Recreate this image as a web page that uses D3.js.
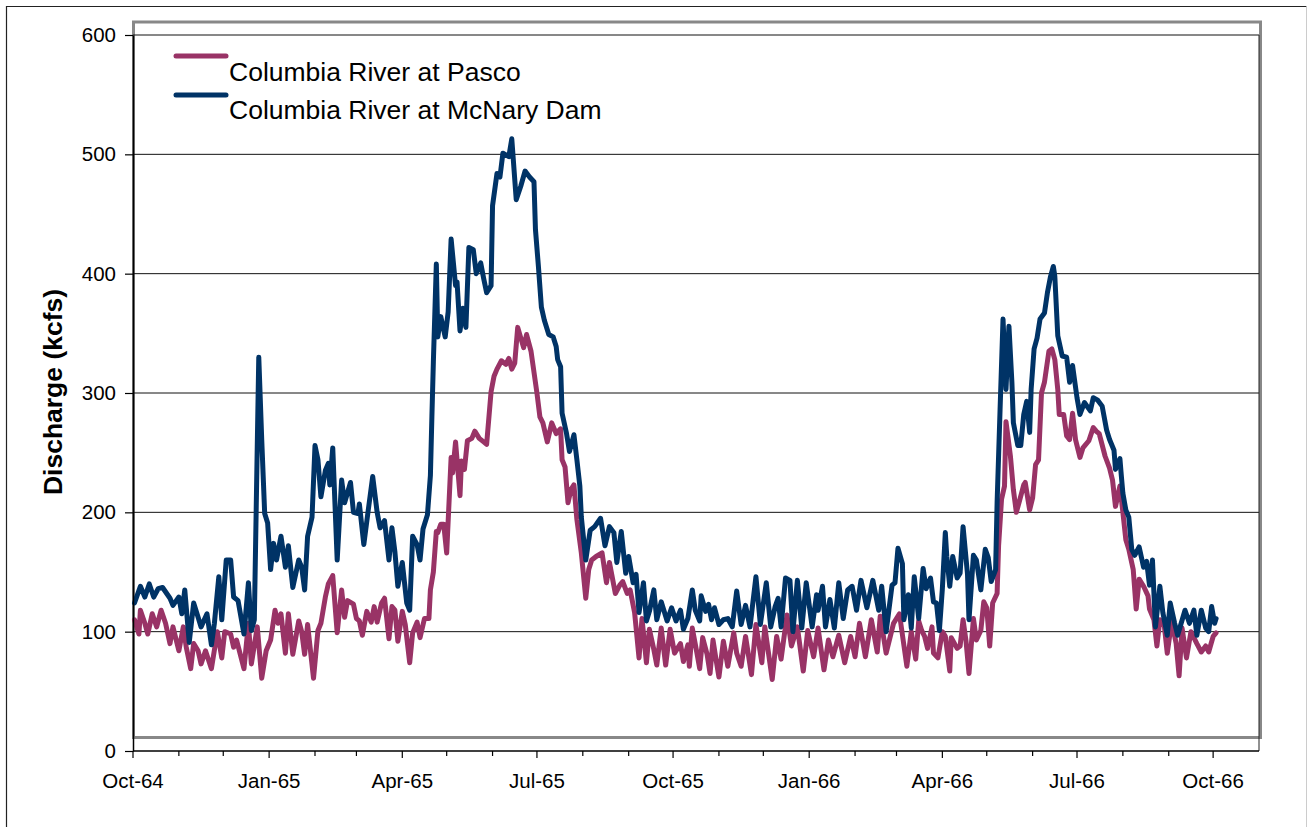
<!DOCTYPE html>
<html>
<head>
<meta charset="utf-8">
<script src="https://cdn.jsdelivr.net/npm/d3@7"></script>
<style>
  html, body { margin: 0; padding: 0; background: #fff; }
  svg { display: block; }
  text { font-family: "Liberation Sans", Arial, sans-serif; fill: #000; }
</style>
</head>
<body>
<svg id="chart" width="1307" height="827"></svg>
<script>
// ---------- data (days since 1 Oct 1964, discharge in kcfs) ----------
const seriesNames = ["Columbia River at Pasco", "Columbia River at McNary Dam"];
const seriesColors = ["#993366", "#003366"];

const mcnaryDay = [1,5,8,11,14,17,20,25,27,31,33,35,38,41,44,46,50,53,55,58,60,63,66,68,71,75,78,80,82,85,87,89,91,93,95,97,100,103,105,108,112,114,116,118,121,123,125,127,130,132,133,135,138,141,143,147,149,152,153,156,159,162,165,167,170,173,175,177,179,182,185,187,189,192,194,196,199,201,202,203,205,206,208,211,213,215,218,219,221,223,225,227,230,232,235,237,239,242,243,246,248,250,254,256,259,262,265,268,271,272,274,276,278,281,284,286,287,289,290,293,295,298,300,302,303,306,309,312,316,319,322,325,327,330,333,335,338,340,342,345,347,349,352,354,357,361,364,367,370,372,375,378,380,383,384,387,389,391,393,396,399,402,405,408,411,414,417,421,424,428,431,434,436,438,441,444,446,449,452,455,459,462,463,466,468,471,474,477,480,483,486,489,492,496,500,504,506,509,513,515,517,520,521,524,526,528,531,534,536,539,541,543,545,547,549,550,552,554,557,559,561,564,565,568,570,573,576,578,580,583,584,586,588,590,592,594,595,598,600,602,604,606,607,609,611,613,616,618,620,622,623,625,628,631,633,635,638,640,643,647,649,652,655,658,660,663,664,667,668,669,671,673,675,677,680,683,685,687,689,691,694,696,699,701,704,706,711,714,717,719,722,725,727,729,731,732];
const mcnaryQ = [124,138,129,140,129,136,137,128,122,129,115,135,91,124,112,104,115,89,107,146,110,160,160,129,126,98,141,101,110,330,261,199,191,152,174,160,180,154,172,137,160,154,135,180,196,256,244,213,235,241,223,254,160,227,208,225,200,199,207,173,202,230,200,187,193,160,187,167,138,158,124,118,180,173,160,186,198,231,280,326,408,347,364,347,368,429,390,393,352,371,355,422,420,400,409,396,384,390,457,484,481,501,498,513,462,473,486,481,477,437,406,372,361,349,347,339,328,322,283,266,251,265,244,222,196,160,185,188,195,172,188,183,158,184,149,163,141,148,116,141,109,117,135,110,125,109,120,109,118,102,111,135,118,109,130,117,123,110,120,106,110,111,104,134,106,122,104,146,106,141,104,121,128,104,145,143,100,143,103,141,104,131,118,138,104,127,103,141,111,135,138,118,143,120,143,118,138,100,139,141,170,157,110,131,103,146,111,153,136,145,125,124,101,136,183,163,138,163,145,149,188,148,110,164,160,135,169,162,142,152,208,286,362,303,356,309,275,256,256,282,293,267,303,337,346,362,367,384,397,406,398,348,331,330,309,323,296,282,292,285,296,294,289,269,261,252,236,245,230,216,202,196,169,164,171,154,159,139,160,104,138,116,97,124,107,97,118,107,118,97,118,103,100,121,107,111];

const pascoDay = [1,4,5,8,10,13,16,19,22,25,27,31,34,36,39,41,44,46,49,53,57,60,62,66,68,70,75,78,80,84,87,90,93,96,98,100,103,105,108,112,114,116,118,122,125,127,130,132,135,138,141,143,145,149,151,153,155,158,161,163,165,168,170,173,175,177,179,182,184,187,189,192,194,197,200,201,203,205,206,208,210,212,215,216,218,221,222,224,226,229,231,234,237,239,242,244,246,249,252,254,256,258,260,264,266,269,273,275,277,280,283,286,289,290,292,294,296,298,300,303,306,308,310,313,317,320,322,326,329,331,334,336,339,342,344,347,349,352,354,357,360,363,366,370,372,375,376,378,381,383,385,388,390,392,394,396,399,402,406,408,411,414,418,421,425,427,432,435,438,442,445,449,453,456,460,463,467,470,473,477,481,485,488,491,495,499,503,505,509,514,518,523,526,529,531,533,535,537,540,541,544,547,549,552,553,557,559,561,563,565,568,570,573,575,577,579,581,584,585,587,589,590,593,595,597,599,602,603,606,608,610,612,614,616,619,621,623,625,626,629,631,633,635,637,640,642,646,649,651,653,657,660,662,664,667,669,671,673,676,678,680,683,686,687,690,692,694,697,699,702,705,707,709,712,715,719,722,725,727,730,732];
const pascoQ = [110,98,118,107,98,115,104,118,107,90,104,84,104,87,69,90,84,73,84,69,100,78,100,98,87,93,69,107,73,104,61,84,93,118,107,115,82,115,81,109,100,81,106,61,101,107,129,140,147,99,135,112,126,123,111,109,97,117,108,121,108,124,128,94,121,118,92,117,106,74,99,108,95,111,111,135,150,184,183,190,190,166,246,233,259,214,243,236,260,262,268,262,259,257,301,314,320,327,324,329,320,325,355,338,349,335,300,280,275,259,275,266,270,244,238,208,219,223,194,166,128,152,160,163,166,141,158,132,139,142,132,135,116,78,111,74,102,85,72,103,72,102,82,90,75,89,71,103,83,69,95,81,65,93,77,62,92,71,99,82,71,96,64,106,74,104,60,96,77,114,88,104,67,101,79,103,68,93,79,97,74,96,79,107,79,110,83,113,82,107,115,71,100,77,109,101,96,86,104,82,78,100,96,67,95,86,88,110,92,65,111,93,101,125,120,88,124,132,172,211,222,276,247,219,200,209,223,225,202,212,240,244,300,309,335,337,328,303,282,282,264,261,283,261,246,254,260,271,268,266,247,237,227,205,222,200,177,169,152,119,144,138,130,119,110,88,110,105,82,109,90,63,103,78,100,90,83,88,83,96,99];

const yTicks = [0, 100, 200, 300, 400, 500, 600];
const xTickLabelFormat = "%b-%y";
const axisTitle = "Discharge (kcfs)";

(function () {
  const svg = d3.select("#chart");
  const pL = 133, pR = 1259, pT = 35, pB = 751;
  const start = new Date(1964, 9, 1);
  const end = new Date(1966, 10, 1);
  const lastTick = new Date(1966, 9, 1);

  const x = d3.scaleTime().domain([start, end]).range([pL, pR]);
  const y = d3.scaleLinear().domain([0, 600]).range([pB, pT]);

  // outer border
  svg.append("path").attr("d", "M6.5,840V6.5H1306.5").attr("fill", "none").attr("stroke", "#222").attr("stroke-width", 1.2);
  svg.append("line").attr("x1", 1306.5).attr("x2", 1306.5).attr("y1", 6.5).attr("y2", 840).attr("stroke", "#ccc");

  // plot-area frame (grey)
  svg.append("rect").attr("x", 133.5).attr("y", 22).attr("width", 1127).attr("height", 715.5)
    .attr("fill", "#fff").attr("stroke", "#888").attr("stroke-width", 3);

  // gridlines
  svg.append("g").selectAll("line").data(yTicks.filter(d => d > 0)).join("line")
    .attr("x1", pL).attr("x2", pR).attr("y1", d => y(d)).attr("y2", d => y(d))
    .attr("stroke", "#111").attr("stroke-width", 1);

  // right edge line
  svg.append("line").attr("x1", pR).attr("x2", pR).attr("y1", pT).attr("y2", pB)
    .attr("stroke", "#222").attr("stroke-width", 1);

  // series
  const series = [
    { days: pascoDay, vals: pascoQ },
    { days: mcnaryDay, vals: mcnaryQ }
  ];
  const line = d3.line().x(d => x(d[0])).y(d => y(d[1]));
  series.forEach((s, i) => {
    const pts = s.days.map((d, k) => [d3.timeDay.offset(start, d), s.vals[k]]);
    svg.append("path").datum(pts).attr("d", line)
      .attr("fill", "none").attr("stroke", seriesColors[i]).attr("stroke-width", 5)
      .attr("stroke-linejoin", "round").attr("stroke-linecap", "round");
  });

  // y axis
  const yAxis = d3.axisLeft(y).tickValues(yTicks).tickSize(8).tickPadding(9).tickSizeOuter(0);
  const gy = svg.append("g").attr("transform", `translate(${pL},0)`).call(yAxis);
  gy.select(".domain").attr("stroke", "#000").attr("stroke-width", 1.5);
  gy.selectAll(".tick line").attr("stroke", "#000").attr("stroke-width", 1.2);
  gy.selectAll(".tick text").attr("font-size", "20.5px")
    .attr("font-family", '"Liberation Sans", Arial, sans-serif').attr("fill", "#000");

  // x axis
  const months = d3.timeMonth.range(start, d3.timeDay.offset(lastTick, 1));
  svg.append("line").attr("x1", pL).attr("x2", pR).attr("y1", pB).attr("y2", pB)
    .attr("stroke", "#000").attr("stroke-width", 1.5);
  svg.append("g").selectAll("line").data(months).join("line")
    .attr("x1", d => x(d)).attr("x2", d => x(d))
    .attr("y1", pB).attr("y2", d => (d.getMonth() % 3 === 0) ? pB + 7 : pB + 5)
    .attr("stroke", "#000").attr("stroke-width", 1.2);
  const fmt = d3.timeFormat(xTickLabelFormat);
  svg.append("g").selectAll("text").data(months.filter(d => d.getMonth() % 3 === 0)).join("text")
    .attr("x", d => x(d)).attr("y", 788).attr("text-anchor", "middle")
    .attr("font-size", "20.5px").text(d => fmt(d));

  // axis title
  svg.append("text").attr("transform", "translate(62,392) rotate(-90)")
    .attr("text-anchor", "middle").attr("font-size", "26.5px").attr("font-weight", "bold")
    .text(axisTitle);

  // legend
  const legY = [56, 95], legTextY = [81, 119];
  seriesNames.forEach((n, i) => {
    svg.append("line").attr("x1", 176).attr("x2", 226).attr("y1", legY[i]).attr("y2", legY[i])
      .attr("stroke", seriesColors[i]).attr("stroke-width", 5).attr("stroke-linecap", "round");
    svg.append("text").attr("x", 229).attr("y", legTextY[i]).attr("font-size", "26.5px").text(n);
  });
})();
</script>
</body>
</html>
